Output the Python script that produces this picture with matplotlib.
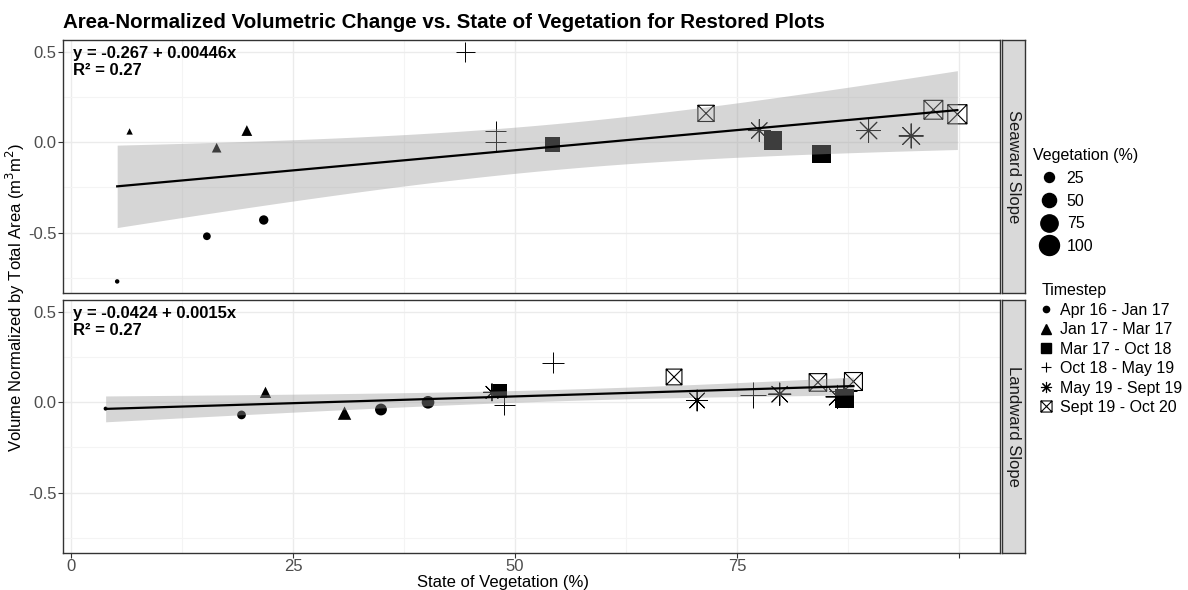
import numpy as np
import matplotlib
matplotlib.use("Agg")
import matplotlib.pyplot as plt
from matplotlib.path import Path
from matplotlib.lines import Line2D

plt.rcParams['font.family'] = ['Liberation Sans', 'DejaVu Sans']

# ---------------- data ----------------
timesteps = ['Apr 16 - Jan 17', 'Jan 17 - Mar 17', 'Mar 17 - Oct 18',
             'Oct 18 - May 19', 'May 19 - Sept 19', 'Sept 19 - Oct 20']

sea_ts = [0, 0, 0, 1, 1, 1, 2, 2, 2, 3, 3, 3, 4, 4, 4, 5, 5, 5]
sea_x = [5.2, 15.3, 21.7, 6.6, 16.4, 19.8, 54.2, 79.0, 84.5, 44.4, 47.8, 47.8,
         77.5, 89.8, 94.6, 71.5, 97.1, 99.8]
sea_y = [-0.77, -0.52, -0.43, 0.06, -0.03, 0.065, -0.01, 0.01, -0.065, 0.50,
         0.06, 0.00, 0.065, 0.065, 0.035, 0.16, 0.18, 0.155]
sea_veg = [5, 15, 22, 7, 16, 20, 54, 79, 85, 44, 48, 48, 78, 90, 95, 72, 97, 100]

land_ts = [0, 0, 0, 0, 1, 1, 2, 2, 3, 3, 3, 3, 4, 4, 4, 4, 5, 5, 5]
land_x = [3.9, 19.2, 34.9, 40.2, 21.9, 30.8, 48.3, 87.1, 48.8, 54.3, 76.8, 86.9,
          47.4, 70.5, 79.8, 86.3, 67.9, 84.1, 88.1]
land_y = [-0.035, -0.07, -0.04, 0.0, 0.055, -0.06, 0.06, 0.02, -0.015, 0.22,
          0.04, 0.06, 0.055, 0.01, 0.045, 0.03, 0.14, 0.11, 0.115]
land_veg = [4, 19, 35, 40, 22, 31, 48, 87, 49, 54, 77, 87, 47, 71, 80, 86, 68, 84, 88]

sea_fit = (-0.267, 0.00446, 0.27)
land_fit = (-0.0424, 0.0015, 0.27)

veg_legend = [25, 50, 75, 100]

# ---------------- markers ----------------
boxx = Path([(-1, -1), (1, -1), (1, 1), (-1, 1), (-1, -1),
             (-1, -1), (1, 1), (-1, 1), (1, -1)],
            [Path.MOVETO, Path.LINETO, Path.LINETO, Path.LINETO, Path.CLOSEPOLY,
             Path.MOVETO, Path.LINETO, Path.MOVETO, Path.LINETO])
shape_marker = ['o', '^', 's', '+', (8, 2, 0), boxx]
shape_factor = [2.07, 3.0, 2.15, 4.5, 3.2, 1.9]
shape_kind = ['fill', 'fill', 'fill', 'line', 'line', 'open']

T95 = {15: 2.131, 16: 2.120, 17: 2.110, 18: 2.101, 19: 2.093, 20: 2.086}
FS = 12


def draw_panel(ax, xs, ys, ts, veg, fit, strip):
    xs = np.asarray(xs, float)
    ys = np.asarray(ys, float)
    veg = np.asarray(veg, float)
    ts = np.asarray(ts)
    ax.set_facecolor('white')
    # points
    for k in range(6):
        m = ts == k
        if not m.any():
            continue
        s = shape_factor[k] * veg[m]
        if shape_kind[k] == 'fill':
            ax.scatter(xs[m], ys[m], s=s, marker=shape_marker[k], c='black',
                       linewidths=0, zorder=3)
        elif shape_kind[k] == 'line':
            ax.scatter(xs[m], ys[m], s=s, marker=shape_marker[k], c='black',
                       linewidths=0.7, zorder=3)
        else:
            ax.scatter(xs[m], ys[m], s=s, marker=shape_marker[k],
                       facecolors='none', edgecolors='black', linewidths=0.8,
                       zorder=3)
    # regression band + line
    b0, b1, r2 = fit
    n = len(xs)
    resid = ys - (b0 + b1 * xs)
    s_res = np.sqrt(np.sum(resid ** 2) / (n - 2))
    xbar = xs.mean()
    sxx = np.sum((xs - xbar) ** 2)
    xx = np.linspace(xs.min(), xs.max(), 80)
    yy = b0 + b1 * xx
    se = s_res * np.sqrt(1.0 / n + (xx - xbar) ** 2 / sxx)
    t = T95.get(n - 2, 2.1)
    ax.fill_between(xx, yy - t * se, yy + t * se, color='#999999', alpha=0.4,
                    linewidth=0, zorder=4)
    ax.plot(xx, yy, color='black', lw=1.6, zorder=5)
    # equation
    ax.text(0.011, 0.975, f"y = {b0:g} + {b1:g}x\nR² = {r2:.2f}",
            transform=ax.transAxes, ha='left', va='top', fontsize=FS,
            fontweight='bold', linespacing=1.1, zorder=6)
    # axes styling
    ax.set_xlim(-0.9, 104.6)
    ax.set_ylim(-0.834, 0.566)
    ax.set_yticks([-0.5, 0.0, 0.5])
    ax.set_yticklabels(['-0.5', '0.0', '0.5'])
    ax.set_yticks([-0.75, -0.25, 0.25], minor=True)
    ax.set_xticks([0, 25, 50, 75, 100])
    ax.set_xticks([12.5, 37.5, 62.5, 87.5], minor=True)
    ax.grid(True, which='major', color='#EBEBEB', lw=1.0, zorder=0)
    ax.grid(True, which='minor', color='#F4F4F4', lw=0.8, zorder=0)
    ax.set_axisbelow(True)
    ax.tick_params(axis='both', which='major', length=3.5, width=0.8,
                   color='#333333', labelsize=FS, labelcolor='#4D4D4D', pad=1.0)
    ax.tick_params(axis='both', which='minor', length=0)
    for sp in ax.spines.values():
        sp.set_color('#333333')
        sp.set_linewidth(1.0)
    # strip
    bb = ax.get_position()
    sax = ax.figure.add_axes([bb.x1 + 2 / 1188, bb.y0, 23 / 1188, bb.height])
    sax.set_facecolor('#D9D9D9')
    sax.set_xticks([])
    sax.set_yticks([])
    for sp in sax.spines.values():
        sp.set_color('#333333')
        sp.set_linewidth(1.0)
    sax.text(0.5, 0.5, strip, rotation=-90, ha='center', va='center',
             fontsize=FS, color='#1A1A1A', transform=sax.transAxes)


W, H = 1188, 590
fig = plt.figure(figsize=(W / 100, H / 100), dpi=100)
ax1 = fig.add_axes([63 / W, 1 - 293 / H, 937 / W, 253 / H])
ax2 = fig.add_axes([63 / W, 1 - 553 / H, 937 / W, 253 / H])

draw_panel(ax1, sea_x, sea_y, sea_ts, sea_veg, sea_fit, 'Seaward Slope')
draw_panel(ax2, land_x, land_y, land_ts, land_veg, land_fit, 'Landward Slope')
ax1.tick_params(axis='x', which='both', length=0, labelbottom=False)
ax2.set_xticklabels(['0', '25', '50', '75', ''])

fig.text(63 / W, 1 - 22 / H, 'Area-Normalized Volumetric Change vs. State of Vegetation for Restored Plots',
         ha='left', va='center', fontsize=14.8, fontweight='bold')
fig.text(15 / W, 1 - 297 / H, 'Volume Normalized by Total Area (m$^3$m$^2$)',
         rotation=90, ha='center', va='center', fontsize=FS)
fig.text(503 / W, 1 - 582 / H, 'State of Vegetation (%)', ha='center', va='center',
         fontsize=FS)

# legends
veg_handles = [Line2D([], [], ls='none', marker='o', color='black',
                      markersize=np.sqrt(2.07 * v)) for v in veg_legend]
leg1 = fig.legend(veg_handles, [str(v) for v in veg_legend], title='Vegetation (%)',
                  loc='upper left', bbox_to_anchor=(1022 / W, 1 - 137 / H),
                  frameon=False, fontsize=11.5, title_fontsize=11.5, labelspacing=0.48,
                  handlelength=2.0, handletextpad=0.1, borderpad=0.2,
                  alignment='left')

ts_sizes = [4.5, 7.5, 7.0, 7.5, 8.0, 8.0]
ts_handles = []
for k in range(6):
    if shape_kind[k] == 'fill':
        h = Line2D([], [], ls='none', marker=shape_marker[k], color='black',
                   markersize=ts_sizes[k])
    elif shape_kind[k] == 'line':
        h = Line2D([], [], ls='none', marker=shape_marker[k], color='black',
                   markeredgewidth=0.8, markersize=ts_sizes[k])
    else:
        h = Line2D([], [], ls='none', marker=shape_marker[k], color='black',
                   markerfacecolor='none', markeredgewidth=0.8, markersize=ts_sizes[k])
    ts_handles.append(h)
leg2 = fig.legend(ts_handles, timesteps, title='Timestep', loc='upper left',
                  bbox_to_anchor=(1030 / W, 1 - 272 / H), frameon=False, fontsize=11.5,
                  title_fontsize=11.5, labelspacing=0.28, handlelength=0.6,
                  handletextpad=0.6, borderpad=0.2, alignment='left')

fig.savefig('out.png', dpi=100, facecolor='white')
